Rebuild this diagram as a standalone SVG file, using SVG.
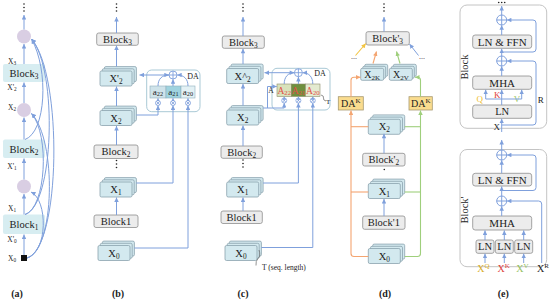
<svg xmlns="http://www.w3.org/2000/svg" xmlns:xlink="http://www.w3.org/1999/xlink" width="550" height="304" viewBox="0 0 550 304">
<style>
text{font-family:"Liberation Serif","Times New Roman",serif;fill:#222}
.t{font-size:10.5px;text-anchor:middle}
.ts{font-size:7.5px;text-anchor:middle}
.tm{font-size:8px;text-anchor:middle}
.tc{font-size:9px;text-anchor:middle}
.te{font-size:11px;text-anchor:middle}
.pl{font-size:10px;font-weight:bold;text-anchor:middle}
.sb{font-size:70%}
.c{fill:none;stroke:#7fa0dc;stroke-width:1}
.ca{fill:none;stroke:#7fa0dc;stroke-width:1;marker-end:url(#ab)}
.cs{fill:none;stroke:#7fa0dc;stroke-width:0.9;marker-end:url(#abs)}
.or{fill:none;stroke:#f4a571;stroke-width:1.1}
.ora{fill:none;stroke:#f4a571;stroke-width:1.1;marker-end:url(#ao)}
.gr{fill:none;stroke:#9fcf7c;stroke-width:1.1}
.gra{fill:none;stroke:#9fcf7c;stroke-width:1.1;marker-end:url(#ag)}
.yea{fill:none;stroke:#f2c443;stroke-width:1.1;marker-end:url(#ay)}
.gb{fill:#ececec;stroke:#8e8e8e;stroke-width:0.8}
.stk rect{fill:#d3e9ef;stroke:#8aa2ad;stroke-width:0.8}
.ablk{fill:#d7edf1}
.cir{fill:#d9cee3}
.dab{fill:none;stroke:#a9c9d6;stroke-width:1}
.outer{fill:#fff;stroke:#c4c4c4;stroke-width:1}
.dak{fill:#fadc8e;stroke:#a89a70;stroke-width:0.8}
.dot{fill:#222}
</style>
<defs>
<marker id="ab" viewBox="0 0 10 10" refX="10" refY="5" markerWidth="5" markerHeight="4.5" markerUnits="userSpaceOnUse" orient="auto"><path d="M0 0L10 5L0 10z" fill="#7fa0dc"/></marker>
<marker id="abs" viewBox="0 0 10 10" refX="10" refY="5" markerWidth="3" markerHeight="3" markerUnits="userSpaceOnUse" orient="auto"><path d="M0 0L10 5L0 10z" fill="#7fa0dc"/></marker>
<marker id="ao" viewBox="0 0 10 10" refX="10" refY="5" markerWidth="5" markerHeight="4.5" markerUnits="userSpaceOnUse" orient="auto"><path d="M0 0L10 5L0 10z" fill="#f4a571"/></marker>
<marker id="ag" viewBox="0 0 10 10" refX="10" refY="5" markerWidth="5" markerHeight="4.5" markerUnits="userSpaceOnUse" orient="auto"><path d="M0 0L10 5L0 10z" fill="#9fcf7c"/></marker>
<marker id="ay" viewBox="0 0 10 10" refX="10" refY="5" markerWidth="5" markerHeight="4.5" markerUnits="userSpaceOnUse" orient="auto"><path d="M0 0L10 5L0 10z" fill="#f2c443"/></marker>
<g id="stk" class="stk"><rect x="4.4" y="-4.4" width="32" height="15" rx="1.5"/><rect x="2.2" y="-2.2" width="32" height="15" rx="1.5"/><rect x="0" y="0" width="32" height="15" rx="1.5"/></g>
<g id="stks" class="stk"><rect x="4" y="-4" width="23" height="12" rx="1.5"/><rect x="2" y="-2" width="23" height="12" rx="1.5"/><rect x="0" y="0" width="23" height="12" rx="1.5"/></g>
<g id="op4"><circle r="4" fill="#fff" stroke="#7fa0dc" stroke-width="0.9"/><path d="M-4 0H4M0 -4V4" stroke="#7fa0dc" stroke-width="0.9"/></g>
<g id="op5"><circle r="5" fill="#fff" stroke="#7fa0dc" stroke-width="1"/><path d="M-5 0H5M0 -5V5" stroke="#7fa0dc" stroke-width="1"/></g>
<g id="ot"><circle r="2.5" fill="#fff" stroke="#7fa0dc" stroke-width="0.8"/><path d="M-1.7 -1.7L1.7 1.7M-1.7 1.7L1.7 -1.7" stroke="#7fa0dc" stroke-width="0.8"/></g>
<g id="vdots"><circle cx="0" cy="0" r="0.8"/><circle cx="0" cy="3.5" r="0.8"/><circle cx="0" cy="7" r="0.8"/></g>
</defs>
<rect width="550" height="304" fill="#fff"/>

<!-- ============ Panel (a) ============ -->
<g id="a-panel">
<g id="a-dots" class="dot"><use xlink:href="#vdots" x="24" y="4"/></g>
<g id="a-c1"><circle class="cir" cx="24" cy="36.5" r="7"/></g>
<g id="a-block3"><rect class="ablk" x="3" y="64" width="42" height="18" rx="2"/><text class="t" x="24" y="76.5">Block<tspan class="sb" dy="2">3</tspan></text></g>
<g id="a-c2"><circle class="cir" cx="24" cy="110" r="7"/></g>
<g id="a-block2"><rect class="ablk" x="3" y="139.5" width="42" height="18.5" rx="2"/><text class="t" x="24" y="152.5">Block<tspan class="sb" dy="2">2</tspan></text></g>
<g id="a-c3"><circle class="cir" cx="24" cy="186.5" r="7"/></g>
<g id="a-block1"><rect class="ablk" x="3" y="214.5" width="42" height="19.5" rx="2"/><text class="t" x="24" y="228">Block<tspan class="sb" dy="2">1</tspan></text></g>
<g id="a-x0"><rect x="21" y="255" width="6" height="6" fill="#111"/><text class="ts" x="12" y="260.5">X<tspan class="sb" dy="1.5">0</tspan></text></g>
<g id="a-labels">
<text class="ts" x="12" y="63.5">X<tspan class="sb" dy="1.5">3</tspan></text>
<text class="ts" x="12" y="89.5">X'<tspan class="sb" dy="1.5">2</tspan></text>
<text class="ts" x="12" y="109.5">X<tspan class="sb" dy="1.5">2</tspan></text>
<text class="ts" x="12" y="168.5">X'<tspan class="sb" dy="1.5">1</tspan></text>
<text class="ts" x="12" y="210.5">X<tspan class="sb" dy="1.5">1</tspan></text>
<text class="ts" x="12" y="241.5">X'<tspan class="sb" dy="1.5">0</tspan></text>
</g>
<text class="pl" x="17" y="297">(a)</text>
</g>

<!-- ============ Panel (b) ============ -->
<g id="b-panel">
<g id="b-dots" class="dot"><use xlink:href="#vdots" x="116.5" y="4"/><use xlink:href="#vdots" x="116.5" y="160.5"/></g>
<g id="b-block3"><rect class="gb" x="96.7" y="33" width="41.6" height="12.3" rx="2"/><text class="t" x="117.5" y="42.8">Block<tspan class="sb" dy="2">3</tspan></text></g>
<g id="b-xp2"><use xlink:href="#stk" x="100" y="71"/><text class="t" x="116" y="82">X'<tspan class="sb" dy="2">2</tspan></text></g>
<g id="b-x2"><use xlink:href="#stk" x="100" y="110.5"/><text class="t" x="116" y="121.5">X<tspan class="sb" dy="2">2</tspan></text></g>
<g id="b-block2"><rect class="gb" x="94" y="145" width="44" height="13.5" rx="2"/><text class="t" x="116" y="155.3">Block<tspan class="sb" dy="2">2</tspan></text></g>
<g id="b-x1"><use xlink:href="#stk" x="100" y="182"/><text class="t" x="116" y="193">X<tspan class="sb" dy="2">1</tspan></text></g>
<g id="b-block1"><rect class="gb" x="94" y="215" width="44" height="12.5" rx="2"/><text class="t" x="116" y="224.8">Block1</text></g>
<g id="b-x0"><use xlink:href="#stk" x="98" y="245.5"/><text class="t" x="114" y="256.5">X<tspan class="sb" dy="2">0</tspan></text></g>
<g id="b-da">
<rect class="dab" x="146.7" y="70" width="53.3" height="41.7" rx="5"/>
<text class="tm" x="193" y="78.5">DA</text>
<use xlink:href="#op4" x="173" y="75"/>
<rect x="150" y="86" width="16" height="12" fill="#cfe3ea" stroke="#8fb0bc" stroke-width="0.6"/>
<rect x="166" y="86" width="15" height="12" fill="#9fd3df" stroke="#8fb0bc" stroke-width="0.6"/>
<rect x="181" y="86" width="14" height="12" fill="#e3f1f5" stroke="#8fb0bc" stroke-width="0.6"/>
<text class="tc" x="158" y="94.8">a<tspan class="sb" dy="1.5">22</tspan></text>
<text class="tc" x="173.5" y="94.8">a<tspan class="sb" dy="1.5">21</tspan></text>
<text class="tc" x="188" y="94.8">a<tspan class="sb" dy="1.5">20</tspan></text>
<use xlink:href="#ot" x="158" y="103"/>
<use xlink:href="#ot" x="173" y="103"/>
<use xlink:href="#ot" x="188" y="103"/>
</g>
<text class="pl" x="118" y="297">(b)</text>
</g>

<!-- ============ Panel (c) ============ -->
<g id="c-panel">
<g id="c-dots" class="dot"><use xlink:href="#vdots" x="243" y="4"/><use xlink:href="#vdots" x="243" y="160"/></g>
<g id="c-block3"><rect class="gb" x="222.3" y="36" width="42" height="12.3" rx="2"/><text class="t" x="243.3" y="45.8">Block<tspan class="sb" dy="2">3</tspan></text></g>
<g id="c-xh2"><use xlink:href="#stk" x="226.7" y="68.5"/><text class="t" x="242.7" y="79.5">X^<tspan class="sb" dy="2">2</tspan></text></g>
<g id="c-x2"><use xlink:href="#stk" x="226.7" y="110"/><text class="t" x="242.7" y="121">X<tspan class="sb" dy="2">2</tspan></text></g>
<g id="c-block2"><rect class="gb" x="221" y="146" width="41.3" height="12.3" rx="2"/><text class="t" x="241.7" y="155.8">Block<tspan class="sb" dy="2">2</tspan></text></g>
<g id="c-x1"><use xlink:href="#stk" x="226.7" y="182"/><text class="t" x="242.7" y="193">X<tspan class="sb" dy="2">1</tspan></text></g>
<g id="c-block1"><rect class="gb" x="221" y="211" width="41.3" height="12.5" rx="2"/><text class="t" x="241.7" y="220.8">Block1</text></g>
<g id="c-x0"><use xlink:href="#stk" x="225" y="245.5"/><text class="t" x="241" y="256.5">X<tspan class="sb" dy="2">0</tspan></text>
<path d="M259 250 Q261 256 258 258.5 Q255.5 261 256 265.5" fill="none" stroke="#666" stroke-width="0.7"/>
<text x="262" y="270" style="font-size:7.5px">T (seq. length)</text></g>
<g id="c-da">
<rect class="dab" x="272" y="68.3" width="58" height="41.7" rx="5"/>
<text class="tm" x="320" y="76">DA</text>
<use xlink:href="#op4" x="298.4" y="72.7"/>
<rect x="277" y="84" width="14.3" height="12.5" fill="#d8e2bb" stroke="#8c8c6c" stroke-width="0.6"/>
<rect x="291.3" y="84" width="14.2" height="12.5" fill="#6f8f3e" stroke="#8c8c6c" stroke-width="0.6"/>
<rect x="305.5" y="84" width="14.5" height="12.5" fill="#e4ead0" stroke="#8c8c6c" stroke-width="0.6"/>
<text x="284.2" y="93.5" style="font-size:9.5px;text-anchor:middle;fill:#e2504a">A<tspan class="sb" dy="1.5">22</tspan></text>
<text x="298.4" y="93.5" style="font-size:9.5px;text-anchor:middle;fill:#e2504a">A<tspan class="sb" dy="1.5">21</tspan></text>
<text x="312.8" y="93.5" style="font-size:9.5px;text-anchor:middle;fill:#e2504a">A<tspan class="sb" dy="1.5">20</tspan></text>
<use xlink:href="#ot" x="284.2" y="100.5"/>
<use xlink:href="#ot" x="298.4" y="100.5"/>
<use xlink:href="#ot" x="312.8" y="100.5"/>
<text class="ts" x="271" y="93">A</text>
<path d="M321 95 Q324 95.5 323.5 98 Q323 100.5 326 101" fill="none" stroke="#666" stroke-width="0.7"/>
<text x="326" y="104" style="font-size:7px">T</text>
</g>
<text class="pl" x="243" y="297">(c)</text>
</g>

<!-- ============ Panel (d) ============ -->
<g id="d-panel">
<g id="d-dots" class="dot"><use xlink:href="#vdots" x="384" y="4"/><circle cx="384.3" cy="169.5" r="0.8"/></g>
<g id="d-block3"><rect class="gb" x="366" y="31.7" width="43.3" height="13.3" rx="2"/><text class="t" x="387.7" y="41.9">Block'<tspan class="sb" dy="2">3</tspan></text></g>
<text class="tm" x="354" y="59">...</text>
<text class="tm" x="422" y="59">...</text>
<g id="d-x2k"><use xlink:href="#stks" x="360.7" y="68.3"/><text x="372.2" y="77.8" style="font-size:10px;text-anchor:middle">X<tspan class="sb" dy="2">2K</tspan></text></g>
<g id="d-x2v"><use xlink:href="#stks" x="389.3" y="68.3"/><text x="400.8" y="77.8" style="font-size:10px;text-anchor:middle">X<tspan class="sb" dy="2">2V</tspan></text></g>
<g id="d-dak1"><rect class="dak" x="338.3" y="96.7" width="25" height="13.3"/><text x="350.8" y="107" style="font-size:10px;text-anchor:middle">DA<tspan class="sb" dy="-4">K</tspan></text></g>
<g id="d-dak2"><rect class="dak" x="409" y="96.7" width="23.3" height="13.3"/><text x="420.7" y="107" style="font-size:10px;text-anchor:middle">DA<tspan class="sb" dy="-4">K</tspan></text></g>
<g id="d-x2"><use xlink:href="#stk" x="368.3" y="119.3"/><text class="t" x="384.3" y="129.9">X<tspan class="sb" dy="2">2</tspan></text></g>
<g id="d-block2"><rect class="gb" x="362.7" y="153.3" width="42.3" height="12.7" rx="2"/><text class="t" x="383.8" y="163.3">Block'<tspan class="sb" dy="2">2</tspan></text></g>
<g id="d-x1"><use xlink:href="#stk" x="368.3" y="183.5"/><text class="t" x="384.3" y="194.5">X<tspan class="sb" dy="2">1</tspan></text></g>
<g id="d-block1"><rect class="gb" x="362.7" y="216" width="42.3" height="13.3" rx="2"/><text class="t" x="383.8" y="226.3">Block'1</text></g>
<g id="d-x0"><use xlink:href="#stk" x="368.3" y="248.5"/><text class="t" x="384.3" y="259.5">X<tspan class="sb" dy="2">0</tspan></text></g>
<text class="pl" x="385" y="297">(d)</text>
</g>

<!-- ============ Panel (e) ============ -->
<g id="e-panel">
<g id="e-dots" class="dot"><circle cx="498.7" cy="2.5" r="0.8"/><circle cx="501.7" cy="2.5" r="0.8"/><circle cx="504.7" cy="2.5" r="0.8"/></g>
<g id="e-block-top">
<rect class="outer" x="460" y="5" width="86.7" height="123.3" rx="7"/>
<text transform="translate(467.5,67) rotate(-90)" style="font-size:10.5px;text-anchor:middle">Block</text>
<text x="540.7" y="103" style="font-size:9px;text-anchor:middle">R</text>
</g>
<g id="e-block-bot">
<rect class="outer" x="460" y="149.5" width="86.7" height="117.2" rx="7"/>
<text transform="translate(467.5,210) rotate(-90)" style="font-size:10.5px;text-anchor:middle">Block'</text>
</g>
<g id="e-op1"><use xlink:href="#op5" x="501.7" y="20"/></g>
<g id="e-ffn1"><rect class="gb" x="472.7" y="35" width="59" height="13.3" rx="2.5"/><text class="te" x="502.2" y="45.5">LN &amp; FFN</text></g>
<g id="e-op2"><use xlink:href="#op5" x="501.7" y="61"/></g>
<g id="e-mha1"><rect class="gb" x="472.7" y="76" width="59" height="13.3" rx="2.5"/><text class="te" x="502.2" y="86.5">MHA</text></g>
<g id="e-ln1"><rect class="gb" x="472.7" y="105" width="59" height="13.3" rx="2.5"/><text class="t" x="502.2" y="115.3">LN</text></g>
<g id="e-qkv">
<text x="479.7" y="101.5" style="font-size:9px;text-anchor:middle;fill:#f0c030">Q</text>
<text x="497.2" y="97.5" style="font-size:9px;text-anchor:middle;fill:#e0403c">K</text>
<text x="517" y="101.5" style="font-size:9px;text-anchor:middle;fill:#9cc864">V</text>
<text x="496.7" y="129.5" style="font-size:9px;text-anchor:middle">X</text>
</g>
<g id="e-op3"><use xlink:href="#op5" x="501.7" y="155"/></g>
<g id="e-ffn2"><rect class="gb" x="472.7" y="173.3" width="59" height="12.7" rx="2.5"/><text class="te" x="502.2" y="183.5">LN &amp; FFN</text></g>
<g id="e-op4"><use xlink:href="#op5" x="501.7" y="201"/></g>
<g id="e-mha2"><rect class="gb" x="472.7" y="216" width="59" height="14" rx="2.5"/><text class="te" x="502.2" y="226.8">MHA</text></g>
<g id="e-ln2a"><rect class="gb" x="476" y="240" width="18" height="13.3" rx="2"/><text class="t" x="485" y="250.3">LN</text></g>
<g id="e-ln2b"><rect class="gb" x="495.3" y="240" width="18" height="13.3" rx="2"/><text class="t" x="504.3" y="250.3">LN</text></g>
<g id="e-ln2c"><rect class="gb" x="514.7" y="240" width="18" height="13.3" rx="2"/><text class="t" x="523.7" y="250.3">LN</text></g>
<g id="e-inputs">
<text x="483.3" y="272" style="font-size:10px;text-anchor:middle;fill:#d8ac28">X<tspan class="sb" dy="-4">Q</tspan></text>
<text x="503.7" y="272" style="font-size:10px;text-anchor:middle;fill:#e0403c">X<tspan class="sb" dy="-4">K</tspan></text>
<text x="522.5" y="272" style="font-size:10px;text-anchor:middle;fill:#94c060">X<tspan class="sb" dy="-4">V</tspan></text>
<text x="543" y="272" style="font-size:10px;text-anchor:middle">X<tspan class="sb" dy="-4">R</tspan></text>
</g>
<text class="pl" x="503.3" y="297">(e)</text>
</g>

<!-- ============ Connectors ============ -->
<g id="connectors">
<!-- (a) -->
<path class="ca" d="M24 255 V234.5"/>
<path class="ca" d="M24 214.5 V194"/>
<path class="ca" d="M24 179.5 V158.5"/>
<path class="ca" d="M24 139.5 V117.5"/>
<path class="ca" d="M24 103 V82.5"/>
<path class="ca" d="M24 64 V44"/>
<path class="ca" d="M24 29.5 V15"/>
<path class="ca" d="M27 258 C48 252, 48 200, 31 192"/>
<path class="ca" d="M27 258 C55 250, 57 140, 31.5 113.5"/>
<path class="ca" d="M27 258 C61 248, 63 75, 31.5 39"/>
<path class="ca" d="M25 214.5 C46 208, 50 135, 31.5 113.5"/>
<path class="ca" d="M25 214.5 C54 206, 58 70, 31.5 39"/>
<path class="ca" d="M25 139.5 C46 132, 49 70, 31.5 39"/>
<!-- (b) -->
<path class="ca" d="M116.5 33 V17"/>
<path class="ca" d="M116.5 66.5 V45.5"/>
<path class="ca" d="M116.5 106 V86.5"/>
<path class="ca" d="M116.5 145 V126"/>
<path class="ca" d="M116.5 215 V197.5"/>
<path class="ca" d="M169 75 H139.5"/>
<path class="ca" d="M158 86 C158 79, 162 75, 168.8 75"/>
<path class="ca" d="M173 86 V79.2"/>
<path class="ca" d="M188 86 C188 79, 184 75, 177.2 75"/>
<path class="cs" d="M158 100.5 V98.2"/>
<path class="cs" d="M173 100.5 V98.2"/>
<path class="cs" d="M188 100.5 V98.2"/>
<path class="ca" d="M136.4 115 H158 V105.6"/>
<path class="ca" d="M136.4 183 H173 V105.6"/>
<path class="ca" d="M134.4 248 H188 V105.6"/>
<!-- (c) -->
<path class="ca" d="M243 36 V17"/>
<path class="ca" d="M243 64 V48.8"/>
<path class="ca" d="M243 105.6 V84"/>
<path class="ca" d="M243 146 V125.5"/>
<path class="ca" d="M243 211 V197.5"/>
<path class="ca" d="M294.4 72.7 H264.5"/>
<path class="ca" d="M284.2 84 C284.2 77, 288 72.7, 294.2 72.7"/>
<path class="ca" d="M298.4 84 V76.9"/>
<path class="ca" d="M312.8 84 C312.8 77, 309 72.7, 302.6 72.7"/>
<path class="cs" d="M284.2 98 V96.7"/>
<path class="cs" d="M298.4 98 V96.7"/>
<path class="cs" d="M312.8 98 V96.7"/>
<path class="ca" d="M263.1 108 H284.2 V103.1"/>
<path class="ca" d="M267.5 108 V86.5 H276.8"/>
<path class="ca" d="M263.1 183 H298.4 V103.1"/>
<path class="ca" d="M261.4 247.5 H312.8 V103.1"/>
<!-- (d) -->
<path class="ca" d="M384 31.7 V17"/>
<path class="ca" d="M384 153.3 V133.8"/>
<path class="ca" d="M384 216 V199"/>
<path class="yea" d="M355.5 55.5 L365.8 43.5"/>
<path class="ora" d="M373 63.5 L376.5 51.5"/>
<path class="gra" d="M400 63.5 L396.5 51.5"/>
<path class="ca" d="M418.5 55.5 L409.5 44"/>
<path class="ora" d="M368.3 256.5 H354 Q351 256.5 351 253.5 V110.4"/>
<path class="or" d="M368.3 192 H351"/>
<path class="or" d="M368.3 126.7 H351"/>
<path class="ora" d="M351 96.7 V80.3 Q351 77.3 354 77.3 H360.5"/>
<path class="gra" d="M404.7 256.5 H417.5 Q420.5 256.5 420.5 253.5 V110.4"/>
<path class="gr" d="M404.7 192 H420.5"/>
<path class="gr" d="M404.7 126.7 H420.5"/>
<path class="gra" d="M420.5 96.7 V80.3 Q420.5 77.3 417.5 77.3 H415"/>
<!-- (e) -->
<path class="ca" d="M501.7 15 V6"/>
<path class="ca" d="M501.7 35 V25.2"/>
<path class="ca" d="M501.7 56 V48.7"/>
<path class="ca" d="M501.7 76 V66.2"/>
<path class="ca" d="M501.7 52 H533 Q536 52 536 49 V23 Q536 20 533 20 H506.9"/>
<path class="ca" d="M501.7 125 H533 Q536 125 536 122 V64 Q536 61 533 61 H506.9"/>
<path class="c" d="M501.7 105 V99 M485.7 99 H521.7"/>
<path class="ca" d="M485.7 99 V89.7"/>
<path class="ca" d="M501.7 99 V89.7"/>
<path class="ca" d="M521.7 99 V89.7"/>
<path class="ca" d="M501.7 132 V118.7"/>
<path class="ca" d="M501.7 150 V140"/>
<path class="ca" d="M501.7 173.3 V160.2"/>
<path class="ca" d="M501.7 196 V186.4"/>
<path class="ca" d="M501.7 216 V206.2"/>
<path class="ca" d="M501.7 190.5 H533 Q536 190.5 536 187.5 V158 Q536 155 533 155 H506.9"/>
<path class="ca" d="M541.7 263 V204 Q541.7 201 538.7 201 H506.9"/>
<path class="ca" d="M485 240 V230.4"/>
<path class="ca" d="M504.3 240 V230.4"/>
<path class="ca" d="M523.7 240 V230.4"/>
<path class="ca" d="M485 263 V253.7"/>
<path class="ca" d="M504.3 263 V253.7"/>
<path class="ca" d="M523.7 263 V253.7"/>
</g>
</svg>
